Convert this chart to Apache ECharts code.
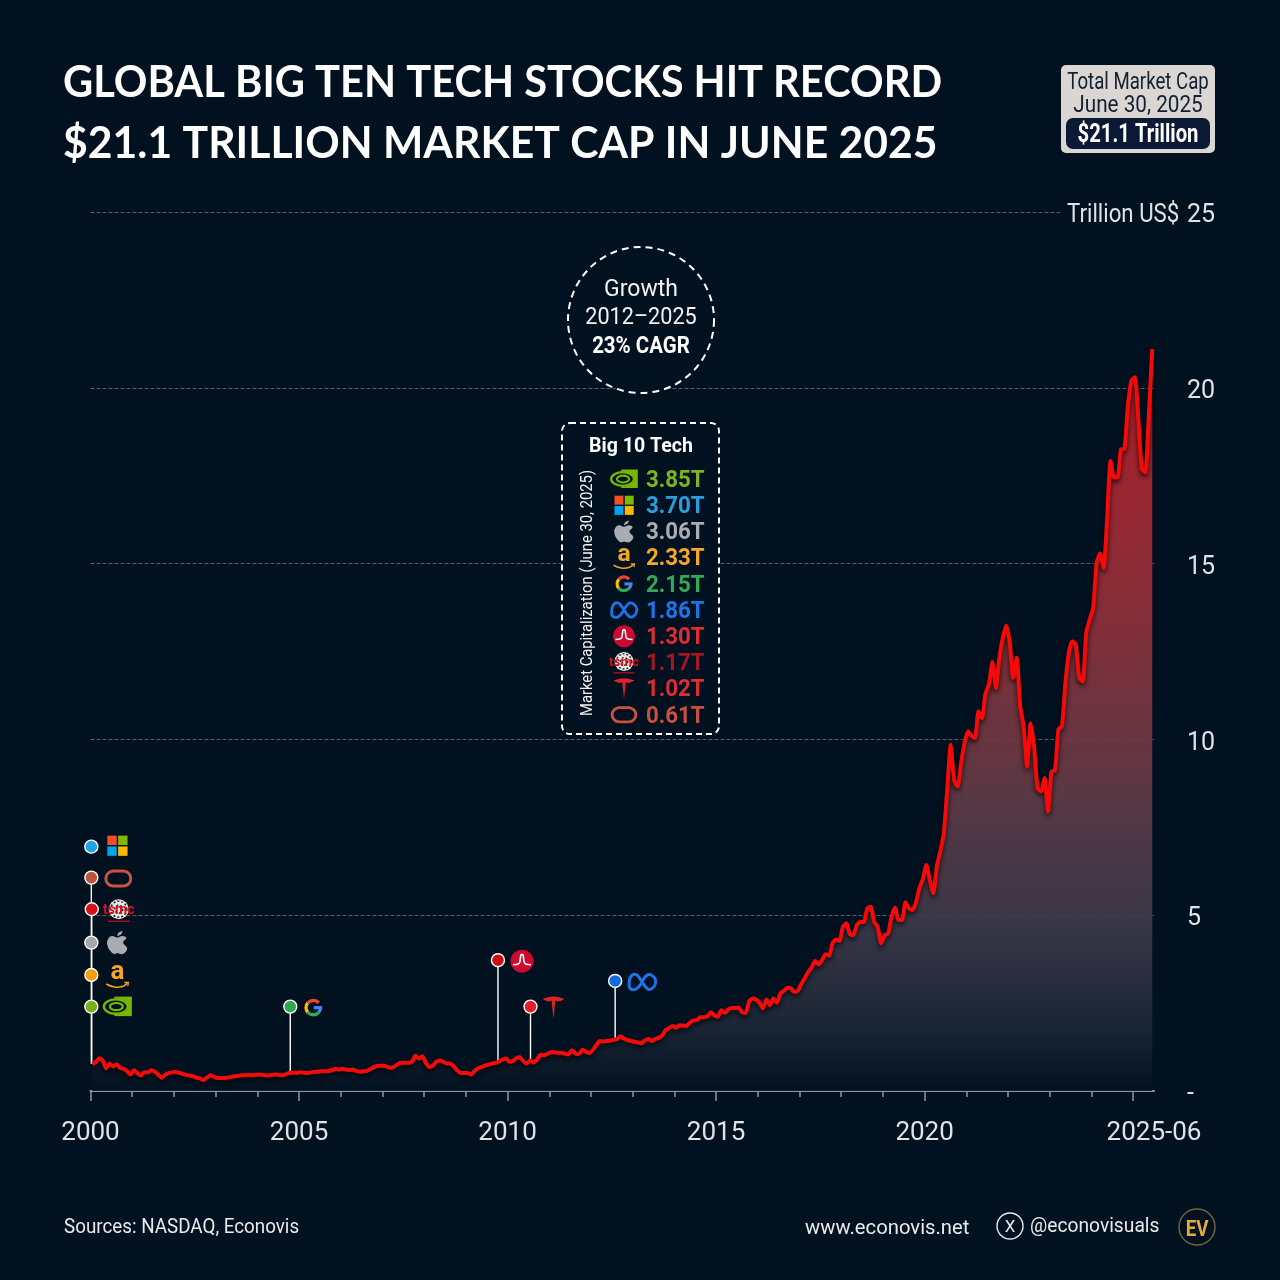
<!DOCTYPE html>
<html>
<head>
<meta charset="utf-8">
<title>Global Big Ten Tech Stocks</title>
<script src="https://cdn.jsdelivr.net/npm/echarts@6/dist/echarts.min.js"></script>
<style>
  html, body { margin: 0; padding: 0; background: #021120; }
  #chart { width: 1280px; height: 1280px; }
</style>
</head>
<body>
<div id="chart"></div>
<script>
// 月度总市值（万亿美元），2000-01 起至 2025-06
const marketCap = [
  0.77,
  0.82, 0.93, 0.87, 0.65, 0.78, 0.70, 0.76, 0.66, 0.63, 0.57, 0.47, 0.59, // 2000
  0.51, 0.44, 0.53, 0.53, 0.59, 0.55, 0.46, 0.38, 0.46, 0.51, 0.53, 0.54, // 2001
  0.52, 0.49, 0.46, 0.44, 0.42, 0.38, 0.36, 0.31, 0.38, 0.45, 0.41, 0.37, // 2002
  0.37, 0.37, 0.38, 0.40, 0.42, 0.43, 0.45, 0.45, 0.46, 0.45, 0.46, 0.47, // 2003
  0.46, 0.44, 0.45, 0.46, 0.47, 0.45, 0.45, 0.49, 0.52, 0.52, 0.52, 0.53, // 2004
  0.52, 0.51, 0.53, 0.54, 0.55, 0.56, 0.56, 0.57, 0.59, 0.63, 0.61, 0.63, // 2005
  0.61, 0.60, 0.61, 0.57, 0.55, 0.56, 0.57, 0.62, 0.68, 0.71, 0.72, 0.72, // 2006
  0.68, 0.66, 0.70, 0.77, 0.80, 0.80, 0.80, 0.83, 1.00, 0.92, 0.99, 0.80, // 2007
  0.68, 0.72, 0.83, 0.87, 0.83, 0.78, 0.78, 0.70, 0.59, 0.51, 0.51, 0.51, // 2008
  0.47, 0.57, 0.65, 0.68, 0.72, 0.75, 0.78, 0.80, 0.83, 0.89, 0.93, 0.83, // 2009
  0.85, 0.93, 0.96, 0.85, 0.78, 0.87, 0.81, 0.89, 1.03, 1.02, 1.06, 1.10, // 2010
  1.10, 1.09, 1.09, 1.06, 1.04, 1.16, 1.07, 1.05, 1.17, 1.12, 1.08, 1.16, // 2011
  1.30, 1.42, 1.41, 1.42, 1.43, 1.46, 1.47, 1.56, 1.49, 1.45, 1.43, 1.40, // 2012
  1.38, 1.36, 1.44, 1.48, 1.42, 1.48, 1.51, 1.58, 1.73, 1.79, 1.85, 1.80, // 2013
  1.87, 1.86, 1.85, 1.95, 2.01, 2.02, 2.10, 2.10, 2.12, 2.24, 2.15, 2.11, // 2014
  2.30, 2.22, 2.32, 2.36, 2.36, 2.37, 2.24, 2.22, 2.54, 2.63, 2.60, 2.51, // 2015
  2.35, 2.60, 2.44, 2.63, 2.51, 2.77, 2.85, 2.94, 2.92, 2.82, 2.85, 3.04, // 2016
  3.20, 3.39, 3.51, 3.70, 3.60, 3.72, 3.89, 3.85, 4.20, 4.31, 4.27, 4.67, // 2017
  4.77, 4.46, 4.43, 4.72, 4.81, 4.81, 5.19, 5.24, 4.81, 4.67, 4.20, 4.43, // 2018
  4.48, 4.96, 5.22, 4.86, 4.86, 5.37, 5.19, 5.15, 5.36, 5.77, 6.03, 6.43, // 2019
  6.00, 5.62, 6.38, 6.81, 7.30, 8.57, 9.85, 8.85, 8.66, 9.33, 9.90, 10.23, // 2020
  10.10, 10.04, 10.80, 10.60, 11.30, 11.56, 12.20, 11.46, 12.32, 12.89, 13.24, 12.74, // 2021
  11.75, 12.32, 10.94, 10.37, 9.23, 10.46, 9.80, 8.61, 8.52, 8.90, 7.95, 9.09, // 2022
  9.12, 10.29, 10.37, 11.60, 12.46, 12.79, 12.70, 11.75, 11.65, 13.03, 13.41, 13.74, // 2023
  15.02, 15.29, 14.88, 16.26, 17.92, 17.45, 17.45, 18.25, 18.27, 19.49, 20.20, 20.30, // 2024
  19.10, 17.70, 17.60, 19.20, 21.10 // 2025
];
const startYear = 2000;
const endYear = 2025.5;
const yTicks = [0, 5, 10, 15, 20, 25];
const majorYears = [2000, 2005, 2010, 2015, 2020, 2025];
const labelYears = [2000, 2005, 2010, 2015, 2020, 2025.5];
const allYears = Array.from({ length: 26 }, (_, i) => 2000 + i);

// 公司上市时间标记
const pinNames = ['microsoft', 'oracle', 'tsmc', 'apple', 'amazon', 'nvidia', 'google', 'broadcom', 'tesla', 'meta'];
const pinYears = [2000.02, 2000.02, 2000.03, 2000.02, 2000.02, 2000.02, 2004.79, 2009.77, 2010.55, 2012.58];
const pinHeights = [6.95, 6.07, 5.17, 4.22, 3.3, 2.4, 2.4, 3.72, 2.4, 3.13];
const pinColors = ['#1ea2e8', '#c0513f', '#d8101c', '#a4a8ad', '#f59e0b', '#76b01c', '#2fa84f', '#cc1010', '#e02128', '#1468e0'];

// 图例：2025-06-30 市值
const rankNames = ['nvidia', 'microsoft', 'apple', 'amazon', 'google', 'meta', 'broadcom', 'tsmc', 'tesla', 'oracle'];
const rankCaps = ['3.85T', '3.70T', '3.06T', '2.33T', '2.15T', '1.86T', '1.30T', '1.17T', '1.02T', '0.61T'];
const rankColors = ['#7ab51d', '#2a9fe0', '#a9adb2', '#f5a623', '#34a853', '#1b74e8', '#e02b35', '#a51524', '#e02b35', '#c9503c'];

const BG = '#021120';
const FONT = 'Roboto, sans-serif';
const TITLE_FONT = 'Lato, sans-serif';

function txt(text, x, y, size, color, opts) {
  const o = opts || {};
  return {
    type: 'text', x: x, y: y + 2, z: o.z || 20,
    rotation: o.rotation || 0,
    scaleX: o.sx || 1,
    style: {
      text: text, fill: color,
      font: (o.weight || 'normal') + ' ' + size + 'px ' + (o.font || FONT),
      textAlign: o.align || 'left', textVerticalAlign: 'middle'
    }
  };
}

function line(points, color, width) {
  return { type: 'polyline', shape: { points: points }, style: { stroke: color, lineWidth: width, fill: null } };
}

/** 公司标志，局部坐标以 (0,0) 为中心 */
function logoShapes(name) {
  if (name === 'microsoft') {
    return [['#f25022', -10, -10], ['#7fba00', 0.8, -10], ['#00a4ef', -10, 0.8], ['#ffb900', 0.8, 0.8]].map(c => ({
      type: 'rect', shape: { x: c[1], y: c[2], width: 9.4, height: 9.4 }, style: { fill: c[0] }
    }));
  }
  if (name === 'nvidia') {
    return [
      { type: 'rect', shape: { x: -3, y: -10, width: 17.5, height: 19.5 }, style: { fill: '#76b900' } },
      { type: 'ellipse', shape: { cx: -1.5, cy: 0, rx: 13, ry: 8 }, style: { fill: BG } },
      { type: 'ellipse', shape: { cx: -1.5, cy: 0, rx: 12, ry: 7.2 }, style: { fill: null, stroke: '#76b900', lineWidth: 2.4 } },
      { type: 'ellipse', shape: { cx: -1, cy: 0, rx: 6.5, ry: 3.6 }, style: { fill: null, stroke: '#76b900', lineWidth: 2.2 } }
    ];
  }
  if (name === 'oracle') {
    return [{ type: 'rect', shape: { x: -12.5, y: -7.5, width: 25, height: 15, r: 7.5 }, style: { fill: null, stroke: '#c9533f', lineWidth: 3 } }];
  }
  if (name === 'tsmc') {
    return [
      { type: 'circle', shape: { cx: 0, cy: -1, r: 10 }, style: { fill: '#e8e8e8' } },
      { type: 'circle', shape: { cx: 0, cy: -1, r: 8 }, style: { fill: null, stroke: '#222', lineWidth: 1.5, lineDash: [2, 2] } },
      { type: 'circle', shape: { cx: 0, cy: -1, r: 4 }, style: { fill: null, stroke: '#222', lineWidth: 1.5, lineDash: [2, 2] } },
      { type: 'text', x: 0, y: 0, style: { text: 'tsmc', fill: '#d8101c', font: 'bold 14px ' + FONT, textAlign: 'center', textVerticalAlign: 'middle' } },
      line([[-11, 11], [11, 11]], '#d8101c', 1.2)
    ];
  }
  if (name === 'apple') {
    return [
      { type: 'polygon', shape: { smooth: 0.45, points: [[0, -5], [5, -6.5], [9, -4.5], [5.8, 0], [9.8, 6], [6.5, 11], [3, 11.5], [0, 10.5], [-3, 11.5], [-7, 8.5], [-10, 2.5], [-9.5, -3], [-5.5, -6.5]] }, style: { fill: '#a9adb2' } },
      { type: 'polygon', shape: { smooth: 0.3, points: [[0, -6.5], [1, -9.5], [5, -11.5], [4, -8.5]] }, style: { fill: '#a9adb2' } }
    ];
  }
  if (name === 'amazon') {
    return [
      { type: 'text', x: 0, y: -3, style: { text: 'a', fill: '#f5a623', font: 'bold 26px ' + FONT, textAlign: 'center', textVerticalAlign: 'middle' } },
      { type: 'polyline', shape: { smooth: 0.5, points: [[-11, 8], [-3, 11], [5, 10.5], [10, 7]] }, style: { fill: null, stroke: '#f5a623', lineWidth: 1.6 } },
      line([[7, 6.5], [11, 6.5], [10.5, 10]], '#f5a623', 1.3)
    ];
  }
  if (name === 'google') {
    const arc = (a, b, c) => ({ type: 'arc', shape: { cx: 0, cy: 0, r: 7.2, startAngle: a, endAngle: b, clockwise: true }, style: { stroke: c, lineWidth: 3.4, fill: null } });
    return [
      arc(0, 0.8, '#4285f4'), arc(0.8, 2.45, '#34a853'), arc(2.45, 3.85, '#fbbc05'), arc(3.85, 5.55, '#ea4335'),
      { type: 'rect', shape: { x: 0.5, y: -1.5, width: 8.4, height: 3.2 }, style: { fill: '#4285f4' } }
    ];
  }
  if (name === 'meta') {
    return [{
      type: 'polygon',
      shape: { smooth: 0.5, points: [[-13, 3], [-11.5, -5], [-6.5, -7.5], [-2, -3], [2, 3], [7, 7.5], [12, 4.5], [13.5, -1], [11.5, -5], [6.5, -7.5], [1.5, -3], [-2, 3], [-7, 7.5], [-12, 6.5]] },
      style: { fill: null, stroke: '#1b74e8', lineWidth: 3 }
    }];
  }
  if (name === 'broadcom') {
    return [
      { type: 'circle', shape: { cx: 0, cy: 0, r: 11.5 }, style: { fill: '#cc092f' } },
      { type: 'polyline', shape: { smooth: 0.2, points: [[-9, 3.5], [-4.5, 3], [-2.2, 1], [-1.2, -6], [0, -7], [1.2, -6], [2.2, 1], [4.5, 3], [9, 3.5]] }, style: { fill: null, stroke: '#fff', lineWidth: 1.6 } }
    ];
  }
  if (name === 'tesla') {
    return [{
      type: 'polygon',
      shape: { points: [[-11, -8.5], [-5, -10.5], [0, -11], [5, -10.5], [11, -8.5], [7, -6.5], [4, -6], [2, -7], [1.6, -4], [0, 11.5], [-1.6, -4], [-2, -7], [-4, -6], [-7, -6.5]] },
      style: { fill: '#e02128' }
    }];
  }
  return [];
}

function logo(name, x, y, scale) {
  // group 的 z 不会传给子元素，要逐个设置
  const children = logoShapes(name).map(s => Object.assign(s, { z: 21 }));
  return { type: 'group', x: x, y: y, scaleX: scale || 1, scaleY: scale || 1, children: children };
}

const logoOffsets = {
  microsoft: [26, -1], oracle: [27, 1], tsmc: [27, 1], apple: [26, 0], amazon: [26, 1], nvidia: [26, 0],
  google: [23, 1], broadcom: [24, 1], tesla: [23, 1], meta: [27, 1]
};

const chart = echarts.init(document.getElementById('chart'));

// 点落在月中，线才与原图的位置对齐
const capPoints = marketCap.map((v, i) => [startYear + (i + 0.5) / 12, v]);
const stemPoints = [];
pinNames.forEach((name, i) => {
  if (name === 'microsoft') return;
  const base = marketCap[Math.round((pinYears[i] - startYear) * 12)];
  stemPoints.push([pinYears[i], base], [pinYears[i], pinHeights[i]], [pinYears[i], null]);
});

chart.setOption({
  animation: false,
  backgroundColor: BG,
  grid: { left: 90.5, right: 126, top: 212, bottom: 189 },
  xAxis: [
    {
      type: 'value', min: startYear, max: endYear, interval: 5,
      splitLine: { show: false },
      axisLine: { lineStyle: { color: '#8f969e', width: 2 } },
      axisTick: { show: true, customValues: allYears, length: 6, lineStyle: { color: '#8f969e', width: 1.5 } },
      axisLabel: { show: false }
    },
    {
      type: 'value', position: 'bottom', min: startYear, max: endYear, interval: 5,
      splitLine: { show: false },
      axisLine: { show: false },
      axisTick: { show: true, customValues: majorYears, length: 10, lineStyle: { color: '#8f969e', width: 1.5 } },
      axisLabel: {
        customValues: labelYears, margin: 29, color: '#dfe3e7', fontSize: 26, fontFamily: FONT,
        formatter: v => (v === endYear ? '2025-06' : String(v))
      }
    }
  ],
  yAxis: {
    type: 'value', position: 'right', min: 0, max: 25, interval: 5,
    axisLine: { show: false }, axisTick: { show: false },
    splitLine: { lineStyle: { color: 'rgba(190,190,190,0.45)', type: 'dashed', width: 1 } },
    axisLabel: {
      margin: 33, align: 'left',
      rich: { t: { color: '#dfe3e7', fontSize: 25, fontFamily: FONT, padding: [8, 0, 0, 0] } },
      formatter: v => '{t|' + (v === 0 ? '-' : v) + '}'
    }
  },
  series: [
    {
      name: 'stems', type: 'line', data: stemPoints, z: 3, symbol: 'none', silent: true,
      lineStyle: { color: '#ffffff', width: 1.4 }
    },
    {
      name: 'Market cap', type: 'line', data: capPoints, z: 4, symbol: 'none', smooth: 0.2,
      lineStyle: { color: '#f50a0a', width: 4, shadowColor: 'rgba(0,0,0,0.75)', shadowBlur: 5, shadowOffsetY: 3 },
      areaStyle: {
        opacity: 1,
        color: new echarts.graphic.LinearGradient(0, 0, 0, 1, [
          { offset: 0, color: 'rgba(185,30,40,0.95)' },
          { offset: 0.35, color: 'rgba(145,48,58,0.92)' },
          { offset: 0.6, color: 'rgba(100,60,72,0.9)' },
          { offset: 0.78, color: 'rgba(62,58,75,0.9)' },
          { offset: 0.92, color: 'rgba(27,38,54,0.9)' },
          { offset: 1, color: 'rgba(2,17,32,0.9)' }
        ])
      }
    },
    {
      name: 'pins', type: 'scatter', z: 5, symbolSize: 13, silent: true,
      data: pinNames.map((n, i) => ({
        value: [pinYears[i], pinHeights[i]],
        itemStyle: { color: pinColors[i], borderColor: '#ffffff', borderWidth: 1.4, opacity: 1 }
      }))
    }
  ]
});

const graphic = [
  // 标题
  txt('GLOBAL BIG TEN TECH STOCKS HIT RECORD', 63, 81, 44, '#ffffff', { font: TITLE_FONT, weight: 'bold', sx: 0.946 }),
  txt('$21.1 TRILLION MARKET CAP IN JUNE 2025', 63, 142, 44, '#ffffff', { font: TITLE_FONT, weight: 'bold', sx: 0.97 }),

  // 右上角总市值
  { type: 'rect', z: 20, shape: { x: 1061, y: 65, width: 154, height: 88, r: 5 }, style: { fill: '#d9d6d3' } },
  txt('Total Market Cap', 1138, 81, 23, '#14202f', { align: 'center', sx: 0.81 }),
  txt('June 30, 2025', 1138, 104, 23, '#14202f', { align: 'center', sx: 0.9 }),
  { type: 'rect', z: 20, shape: { x: 1066, y: 118, width: 144, height: 31, r: 7 }, style: { fill: '#0a1a35' } },
  txt('$21.1 Trillion', 1138, 134, 25, '#ffffff', { align: 'center', weight: 'bold', sx: 0.81 }),

  // 25 这条线只画到标签之前
  { type: 'rect', z: 10, shape: { x: 1060, y: 208, width: 120, height: 8 }, style: { fill: BG } },
  txt('Trillion US$', 1067, 214, 25, '#dfe3e7', { sx: 0.89 }),

  // 增长圈
  { type: 'circle', z: 20, shape: { cx: 641, cy: 320, r: 73 }, style: { fill: BG, stroke: '#ffffff', lineWidth: 2, lineDash: [7, 5] } },
  txt('Growth', 641, 288, 23, '#f2f2f2', { align: 'center' }),
  txt('2012\u20132025', 641, 316, 23, '#f2f2f2', { align: 'center', sx: 0.94 }),
  txt('23% CAGR', 641, 345, 23, '#ffffff', { align: 'center', weight: 'bold', sx: 0.89 }),

  // 排名框
  { type: 'rect', z: 20, shape: { x: 562, y: 423, width: 157, height: 311, r: 8 }, style: { fill: BG, stroke: '#ffffff', lineWidth: 2, lineDash: [6, 4] } },
  txt('Big 10 Tech', 641, 445, 21, '#ffffff', { align: 'center', weight: 'bold', sx: 0.93 }),
  txt('Market Capitalization (June 30, 2025)', 588, 591, 17, '#f2f2f2', { align: 'center', rotation: Math.PI / 2, sx: 0.87 }),

  // 页脚
  txt('Sources: NASDAQ, Econovis', 64, 1226, 21, '#e8eaec', { sx: 0.895 }),
  txt('www.econovis.net', 805, 1227, 21, '#e8eaec', { sx: 0.965 }),
  { type: 'circle', z: 20, shape: { cx: 1010, cy: 1226, r: 13 }, style: { fill: null, stroke: '#e8eaec', lineWidth: 1.4 } },
  txt('X', 1010, 1226, 17, '#e8eaec', { align: 'center' }),
  txt('@econovisuals', 1030, 1225, 21, '#e8eaec', { sx: 0.915 }),
  { type: 'circle', z: 20, shape: { cx: 1197, cy: 1227, r: 18 }, style: { fill: null, stroke: '#6f6140', lineWidth: 1.5 } },
  txt('EV', 1197, 1228, 22, '#eba93a', { align: 'center', weight: 'bold', sx: 0.85 })
];

rankNames.forEach((name, i) => {
  const y = 479 + i * 26.2;
  graphic.push(logo(name, 624, y, 0.95));
  graphic.push(txt(rankCaps[i], 646, y, 23, rankColors[i], { weight: 'bold', sx: 0.97 }));
});

pinNames.forEach((name, i) => {
  const p = chart.convertToPixel({ xAxisIndex: 0, yAxisIndex: 0 }, [pinYears[i], pinHeights[i]]);
  graphic.push(logo(name, p[0] + logoOffsets[name][0], p[1] + logoOffsets[name][1]));
});

chart.setOption({ graphic: graphic });
</script>
</body>
</html>
